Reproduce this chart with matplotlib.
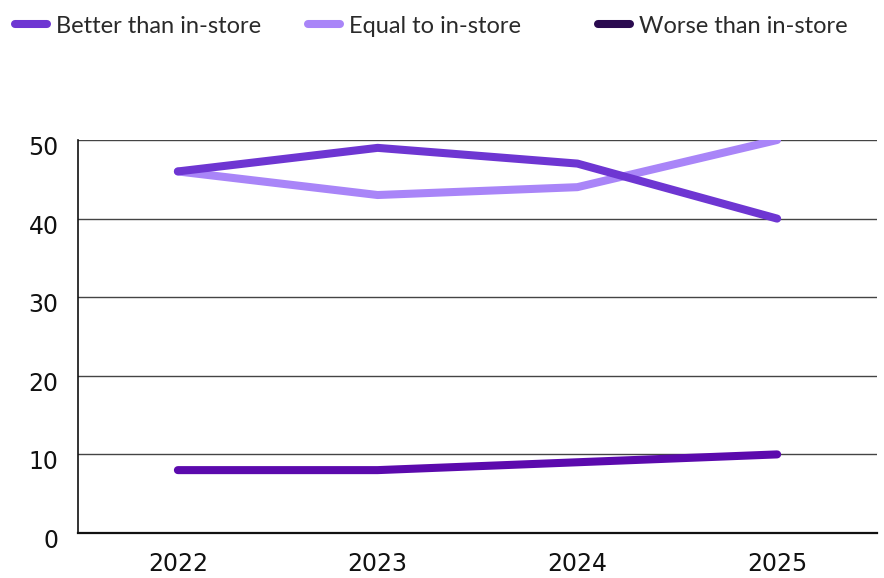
import matplotlib.pyplot as plt
import matplotlib.transforms as mtransforms
from matplotlib.lines import Line2D

plt.rcParams['font.family'] = ['Lato', 'DejaVu Sans']

# Datos
years = ['2022', '2023', '2024', '2025']
better = [46, 49, 47, 40]
equal = [46, 43, 44, 50]
worse = [8, 8, 9, 10]

labels = ['Better than in-store', 'Equal to in-store', 'Worse than in-store']
c_better = '#6e36d2'
c_equal = '#a985f8'
c_worse = '#5b0aad'
c_worse_leg = '#2a0a4f'

W, H = 884, 578
fig = plt.figure(figsize=(W / 100, H / 100), dpi=100)
ax = fig.add_axes([78 / W, 45 / H, 799 / W, 393 / H])

x = range(len(years))
ax.plot(x, worse, color=c_worse, lw=5.8, solid_capstyle='round', zorder=3)
ax.plot(x, equal, color=c_equal, lw=5.8, solid_capstyle='round', zorder=3)
ax.plot(x, better, color=c_better, lw=5.8, solid_capstyle='round', zorder=4)

ax.set_xlim(-0.5, 3.5)
ax.set_ylim(0, 50)
ax.set_yticks([0, 10, 20, 30, 40, 50])
ax.set_xticks(list(x))
ax.set_xticklabels(years)
ax.tick_params(axis='both', length=0, labelsize=17, colors='#111111')
ax.tick_params(axis='y', pad=14)
ax.tick_params(axis='x', pad=14)
for lab in ax.get_xticklabels() + ax.get_yticklabels():
    lab.set_family(['DejaVu Sans'])
# etiquetas del eje y un poco por debajo de la línea
shift = mtransforms.ScaledTranslation(0, -4 / 72, fig.dpi_scale_trans)
for lab in ax.get_yticklabels():
    lab.set_transform(lab.get_transform() + shift)
ax.yaxis.grid(True, color='#444444', lw=1)
ax.set_axisbelow(True)
for s in ['top', 'right']:
    ax.spines[s].set_visible(False)
ax.spines['left'].set_color('#111111')
ax.spines['bottom'].set_color('#111111')
ax.spines['left'].set_linewidth(1.2)
ax.spines['bottom'].set_linewidth(1.6)

# Leyenda con columnas de ancho fijo
leg_colors = [c_better, c_equal, c_worse_leg]
leg_x = [12, 305, 595]
leg_y = 1 - 24 / H
for x0, col, lab in zip(leg_x, leg_colors, labels):
    fig.add_artist(Line2D([(x0 + 3) / W, (x0 + 35) / W], [leg_y, leg_y],
                          transform=fig.transFigure, color=col, lw=5.8,
                          solid_capstyle='round'))
    fig.text((x0 + 44) / W, 1 - 33 / H, lab, fontsize=17, color='#2a2a2a',
             va='baseline', ha='left')

fig.savefig('out.png', dpi=100)
